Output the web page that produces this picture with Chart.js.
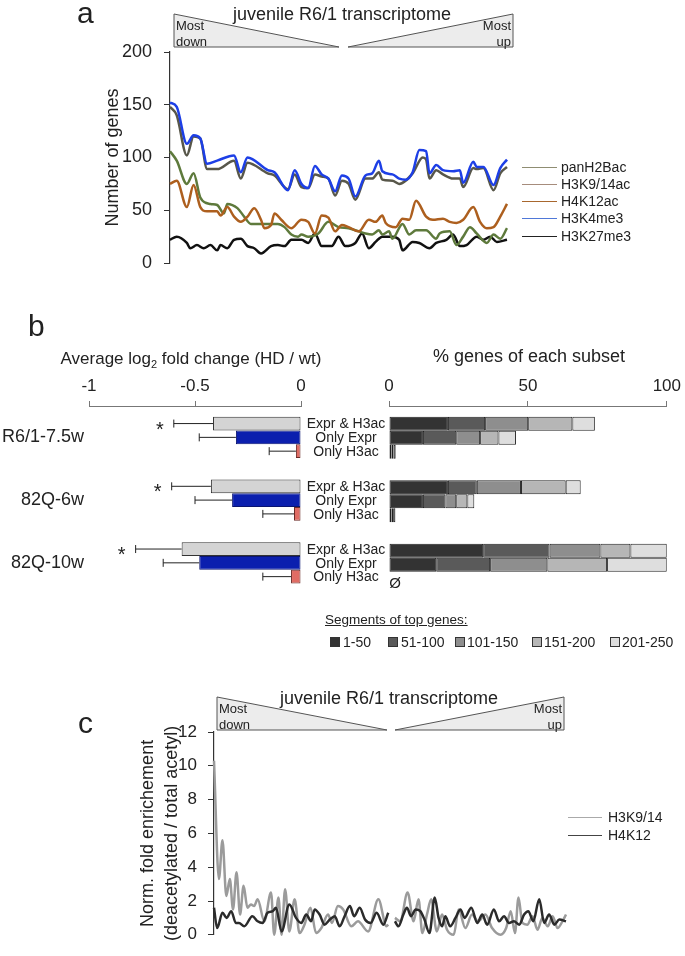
<!DOCTYPE html>
<html>
<head>
<meta charset="utf-8">
<script src="https://cdn.jsdelivr.net/npm/chart.js@4.4.0/dist/chart.umd.min.js"></script>
<style>
  body { margin: 0; width: 685px; height: 956px; position: relative; overflow: hidden; background: #fff;
         font-family: Arial, "Liberation Sans", sans-serif; color: #222; }
  canvas, svg { position: absolute; }
  .t { position: absolute; white-space: nowrap; line-height: 1; }
  .c { transform: translate(-50%, -50%); }
  .lt { font-size: 30px; line-height: 30px; }
  .sm { font-size: 13px; line-height: 13px; }
  .leg { font-size: 14px; transform: translateY(-50%); }
  .ln { position: absolute; height: 0; border-top: 1.5px solid; }
  .sq { position: absolute; width: 8px; height: 8px; border: 1px solid #333; }
</style>
</head>
<body>

<canvas id="chartA" width="685" height="290" style="left:0;top:0"></canvas>
<canvas id="chartB1" width="390" height="270" style="left:0;top:340px"></canvas>
<canvas id="chartB2" width="305" height="270" style="left:380px;top:340px"></canvas>
<canvas id="chartC" width="685" height="276" style="left:0;top:680px"></canvas>

<!-- rank wedges above panels a and c -->
<svg width="685" height="956" style="left:0;top:0">
  <polygon points="174,14 174,47 339,47" fill="#ececec" stroke="#555" stroke-width="1"/>
  <polygon points="348,47 513,14 513,47" fill="#ececec" stroke="#555" stroke-width="1"/>
  <polygon points="217,697 217,730 387,730" fill="#ececec" stroke="#555" stroke-width="1"/>
  <polygon points="395,730 564,697 564,730" fill="#ececec" stroke="#555" stroke-width="1"/>
</svg>

<!-- panel a -->
<div class="t lt" style="left:77px;top:-2px">a</div>
<div class="t c" style="left:342px;top:14px;font-size:18px">juvenile R6/1 transcriptome</div>
<div class="t sm" style="left:176px;top:19px">Most</div>
<div class="t sm" style="left:176px;top:35px">down</div>
<div class="t sm" style="right:174px;top:19px">Most</div>
<div class="t sm" style="right:174px;top:35px">up</div>

<div class="ln" style="left:522px;top:167px;width:35px;border-color:#8f8d72"></div>
<div class="t leg" style="left:561px;top:167px">panH2Bac</div>
<div class="ln" style="left:522px;top:184px;width:35px;border-color:#a68c7c"></div>
<div class="t leg" style="left:561px;top:184px">H3K9/14ac</div>
<div class="ln" style="left:522px;top:201px;width:35px;border-color:#a8672e"></div>
<div class="t leg" style="left:561px;top:201px">H4K12ac</div>
<div class="ln" style="left:522px;top:218px;width:35px;border-color:#4f78d8"></div>
<div class="t leg" style="left:561px;top:218px">H3K4me3</div>
<div class="ln" style="left:522px;top:236px;width:35px;border-color:#222"></div>
<div class="t leg" style="left:561px;top:236px">H3K27me3</div>

<!-- panel b -->
<div class="t lt" style="left:28px;top:311px">b</div>
<div class="t c" style="left:191px;top:360px;font-size:17px">Average log<span style="font-size:11px;vertical-align:-4px">2</span> fold change (HD / wt)</div>
<div class="t c" style="left:529px;top:356px;font-size:18px">% genes of each subset</div>
<div class="t c" style="left:395px;top:582px;font-size:15px">Ø</div>

<div class="t" style="left:325px;top:613px;font-size:13.5px;text-decoration:underline">Segments of top genes:</div>
<div class="sq" style="left:330px;top:637px;background:#333333"></div>
<div class="t leg" style="left:343px;top:642px">1-50</div>
<div class="sq" style="left:388px;top:637px;background:#5a5a5a"></div>
<div class="t leg" style="left:401px;top:642px">51-100</div>
<div class="sq" style="left:455px;top:637px;background:#8e8e8e"></div>
<div class="t leg" style="left:467px;top:642px">101-150</div>
<div class="sq" style="left:532px;top:637px;background:#b6b6b6"></div>
<div class="t leg" style="left:544px;top:642px">151-200</div>
<div class="sq" style="left:610px;top:637px;background:#dedede"></div>
<div class="t leg" style="left:622px;top:642px">201-250</div>

<!-- panel c -->
<div class="t lt" style="left:78px;top:708px">c</div>
<div class="t c" style="left:389px;top:698px;font-size:18px">juvenile R6/1 transcriptome</div>
<div class="t sm" style="left:219px;top:702px">Most</div>
<div class="t sm" style="left:219px;top:718px">down</div>
<div class="t sm" style="right:123px;top:702px">Most</div>
<div class="t sm" style="right:123px;top:718px">up</div>

<div class="ln" style="left:568px;top:817px;width:34px;border-color:#aaa"></div>
<div class="t leg" style="left:608px;top:817px">H3K9/14</div>
<div class="ln" style="left:568px;top:835px;width:34px;border-color:#444"></div>
<div class="t leg" style="left:608px;top:835px">H4K12</div>

<script>
// ---- panel a: number of genes along the ranked transcriptome (rank %, count) ----
const panH2Bac = [[0,148],[2,140],[5,102],[7,120],[9,118],[11,89],[14,89],[19,97],[21,80],[23,95],[29,85],[31,83],[35,70],[37,84],[39,72],[41,71],[43,84],[45,82],[47,80],[49,64],[51,78],[53,75],[55,60],[58,80],[60,80],[62,86],[63,79],[66,78],[68,75],[72,85],[75,100],[76,98],[77,80],[79,88],[81,84],[84,80],[86,80],[87,72],[90,90],[91,89],[93,90],[96,69],[98,85],[100,91]];
const h3k914ac = [[0,106],[2,97],[5,75],[7,85],[9,62],[12,56],[14,55],[16,47],[17,56],[20,52],[22,44],[24,37],[27,37],[32,37],[34,34],[36,27],[38,25],[39,27],[41,25],[44,28],[47,39],[50,34],[53,33],[55,31],[58,28],[60,27],[62,31],[63,27],[65,30],[66,23],[69,37],[71,27],[73,31],[76,31],[79,23],[80,28],[83,30],[85,17],[87,25],[89,34],[91,28],[94,19],[96,27],[98,23],[100,33]];
const h4k12ac = [[0,75],[2,78],[5,53],[7,74],[9,53],[11,49],[14,49],[15,45],[17,53],[19,44],[21,39],[23,44],[25,52],[27,41],[28,33],[30,36],[31,47],[33,41],[36,33],[39,41],[41,39],[43,28],[45,45],[47,43],[49,30],[51,36],[53,34],[56,30],[59,41],[61,39],[63,45],[64,38],[67,34],[69,42],[71,41],[73,59],[76,44],[78,41],[81,42],[83,39],[85,38],[87,41],[90,53],[92,39],[94,33],[96,34],[98,44],[100,56]];
const h3k4me3 = [[0,152],[2,148],[5,113],[7,121],[9,118],[11,94],[14,97],[19,102],[21,86],[23,100],[29,88],[31,86],[35,69],[37,88],[39,75],[41,71],[43,92],[45,84],[47,80],[49,68],[51,83],[53,80],[55,63],[58,83],[60,85],[62,97],[63,87],[66,84],[68,80],[70,79],[72,86],[74,107],[76,106],[77,85],[79,93],[81,88],[84,87],[86,88],[87,76],[90,96],[91,91],[93,91],[96,74],[98,90],[100,98]];
const h3k27me3 = [[0,22],[2,25],[5,19],[6,14],[8,17],[10,14],[12,17],[14,12],[15,17],[17,14],[19,22],[21,23],[23,16],[25,14],[27,9],[30,16],[32,17],[34,16],[36,22],[39,22],[41,19],[43,28],[45,16],[48,16],[50,25],[52,16],[55,19],[57,28],[59,14],[61,20],[63,25],[66,25],[68,22],[69,12],[72,20],[74,19],[77,14],[79,19],[82,22],[84,27],[86,16],[88,17],[91,25],[93,22],[95,25],[97,20],[100,22]];
const geneTicks = [0, 50, 100, 150, 200];

// ---- panel b: fold change (left) and top-gene segments (right) ----
const groups = ['R6/1-7.5w', '82Q-6w', '82Q-10w'];
const subsets = ['Expr & H3ac', 'Only Expr', 'Only H3ac'];
const fcExprH3ac = [-0.415, -0.425, -0.563];
const fcOnlyExpr = [-0.307, -0.325, -0.48];
const fcOnlyH3ac = [-0.024, -0.033, -0.047];
const semExprH3ac = [0.185, 0.185, 0.217];
const semOnlyExpr = [0.173, 0.175, 0.17];
const semOnlyH3ac = [0.126, 0.147, 0.133];
const significant = [true, true, true];

const segLabels = ['1-50', '51-100', '101-150', '151-200', '201-250'];
const segColors = ['#333333', '#5a5a5a', '#8e8e8e', '#b6b6b6', '#dedede'];
const pctExprH3ac = [[21.2, 13.4, 15.5, 15.9, 8.1], [21.2, 10.4, 15.9, 16.1, 5.4], [33.9, 23.9, 18.3, 10.8, 13.1]];
const pctOnlyExpr = [[12.2, 12.0, 8.6, 6.6, 6.3], [12.2, 8.1, 3.9, 4.0, 2.5], [17.0, 19.4, 20.6, 21.5, 21.5]];
const pctOnlyH3ac = [[0.9, 0.7, 0.8, null, null], [0.9, 0.6, 0.8, null, null], [null, null, null, null, null]];

// ---- panel c: deacetylated / total acetyl enrichment (rank %, ratio) ----
const h3k914Ratio = [[0,10.3],[1.4,3.3],[2.4,5.6],[3.5,2.3],[4.5,3.3],[5.4,1.5],[6.4,3.7],[7.4,1.2],[8.4,2.9],[9.5,1.6],[10.5,1.8],[11.4,1.7],[12.4,2.1],[14.3,0.8],[16.2,2.5],[17.1,0],[18.3,2.2],[19.2,0],[20.2,2.7],[21.4,0.2],[22.9,2.1],[24.3,0.1],[25.7,0.6],[27.4,1.6],[29,0.1],[30.5,0.4],[32.4,1.2],[33.5,0.7],[35.2,1.7],[36.7,1.5],[39,0.5],[40.9,0.8],[43.8,0.2],[46.7,2.1],[49,0.5],[49.5,0.6],[50.5,null],[51.4,1.0],[52.9,0.8],[55,2.5],[56.7,0.8],[58.1,2.1],[59.2,0.1],[60.5,1.2],[61.7,2.1],[63.3,0.2],[64.8,1.2],[66.2,0.3],[68.1,0],[69.5,1.5],[71.4,0.4],[73.3,1.2],[75,0.8],[77.1,1.2],[79,0.4],[81.4,0],[83,0.4],[84.3,1.4],[85.5,0.1],[86.5,2.2],[87.6,0.7],[89,0.6],[90.5,1.1],[91.9,0.3],[93.3,1.0],[94.8,0.5],[96.2,1.1],[97.6,0.4],[99,0.8],[100,1.2]];
const h4k12Ratio = [[0,1.6],[0.9,0.4],[2.4,1.3],[3.6,1.0],[4.9,1.4],[6.2,0.7],[7.1,0.7],[8.6,0.5],[10.9,1.1],[12.4,0.8],[13.8,0.7],[15.2,1.3],[16.7,1.4],[17.6,1.6],[19.2,0.2],[21.4,1.8],[23.3,1.0],[24.8,0.7],[26.2,1.2],[27.6,0.8],[28.6,1.5],[30,1.2],[31.4,0.6],[32.9,0.9],[34.3,1.1],[35.7,0.5],[37.1,1.1],[38.6,1.7],[39.8,1.1],[41.4,1.6],[42.9,0.9],[44.5,0.7],[46.2,1.3],[48.1,0.6],[49.5,1.3],[50.5,null],[51.4,0.8],[52.4,0.5],[53.8,1.2],[54.8,1.6],[56,1.1],[57.3,1.5],[58.6,1.4],[59.8,0.9],[61.2,0.1],[62.7,2.2],[63.8,1.0],[64.8,0.5],[65.7,1.1],[67.1,0.5],[68.6,1.0],[70,1.5],[71.2,1.0],[73.1,1.6],[74.8,0.7],[76.2,1.2],[77.6,0.6],[79.5,1.5],[81,0.8],[82.4,1.1],[83.8,0.7],[85.2,0.8],[86.7,0.6],[88.1,1.2],[89.3,1.4],[90.7,0.8],[92.4,2.1],[93.8,0.7],[95.2,1.2],[96.7,0.6],[98.1,0.9],[100,0.8]];

Chart.defaults.font.family = 'Arial, "Liberation Sans", sans-serif';
Chart.defaults.color = '#222';
Chart.defaults.animation = false;
Chart.defaults.plugins.legend.display = false;
Chart.defaults.plugins.tooltip.enabled = false;

function toXY(pairs) {
    return pairs.map(p => ({ x: p[0], y: p[1] }));
}

function lineSet(label, pairs, color, order) {
    return {
        label: label,
        data: toXY(pairs),
        borderColor: color,
        borderWidth: 2.5,
        pointRadius: 0,
        cubicInterpolationMode: 'monotone',
        spanGaps: false,
        clip: false,
        order: order
    };
}

// panel a
new Chart(document.getElementById('chartA'), {
    type: 'line',
    data: {
        datasets: [
            lineSet('H3K4me3', h3k4me3, '#1d3fe6', 0),
            lineSet('panH2Bac', panH2Bac, '#58574a', 1),
            lineSet('H4K12ac', h4k12ac, '#ad5f1e', 2),
            lineSet('H3K9/14ac', h3k914ac, '#5e7a3c', 3),
            lineSet('H3K27me3', h3k27me3, '#111111', 4)
        ]
    },
    options: {
        responsive: false,
        layout: { padding: { left: 102, right: 178, top: 52, bottom: 27 } },
        scales: {
            x: { type: 'linear', min: 0, max: 100, display: false },
            y: {
                min: 0, max: 200,
                afterBuildTicks: s => { s.ticks = geneTicks.map(v => ({ value: v })); },
                ticks: { font: { size: 18 }, padding: 12, color: '#222' },
                grid: { drawOnChartArea: false, tickLength: 6, color: '#333' },
                border: { color: '#333', width: 1.2 },
                title: { display: true, text: 'Number of genes', font: { size: 18 }, padding: 0, color: '#222' },
                afterFit: s => { s.width = 68; }
            }
        }
    }
});

// error bars, asterisks and subset names for the fold-change bars
const errorBars = {
    id: 'errorBars',
    afterDatasetsDraw(chart) {
        const ctx = chart.ctx;
        const xs = chart.scales.x;
        ctx.save();
        chart.data.datasets.forEach((ds, i) => {
            chart.getDatasetMeta(i).data.forEach((bar, j) => {
                const end = xs.getPixelForValue(ds.data[j] - ds.sem[j]);
                ctx.strokeStyle = '#222';
                ctx.lineWidth = 1;
                ctx.beginPath();
                ctx.moveTo(bar.x, bar.y);
                ctx.lineTo(end, bar.y);
                ctx.moveTo(end, bar.y - 4);
                ctx.lineTo(end, bar.y + 4);
                ctx.stroke();
                ctx.fillStyle = '#222';
                if (i === 0 && significant[j]) {
                    ctx.font = '20px Arial, "Liberation Sans", sans-serif';
                    ctx.textAlign = 'center';
                    ctx.textBaseline = 'alphabetic';
                    ctx.fillText('*', end - 14, bar.y + 12);
                }
                ctx.font = '14px Arial, "Liberation Sans", sans-serif';
                ctx.textAlign = 'center';
                ctx.textBaseline = 'middle';
                ctx.fillText(ds.label, chart.chartArea.right + 45, bar.y + 1);
            });
        });
        ctx.restore();
    }
};

const topAxis = (min, max, step) => ({
    position: 'top',
    min: min, max: max,
    ticks: { stepSize: step, font: { size: 17 }, padding: 4, color: '#222', callback: v => String(v) },
    grid: { drawOnChartArea: false, tickLength: 5, color: '#777' },
    border: { color: '#777' },
    afterFit: s => { s.height = 40; }
});

new Chart(document.getElementById('chartB1'), {
    type: 'bar',
    data: {
        labels: groups,
        datasets: [
            { label: subsets[0], data: fcExprH3ac, sem: semExprH3ac, backgroundColor: '#d4d4d4', borderColor: '#333' },
            { label: subsets[1], data: fcOnlyExpr, sem: semOnlyExpr, backgroundColor: '#0b1fae', borderColor: '#0a1470' },
            { label: subsets[2], data: fcOnlyH3ac, sem: semOnlyH3ac, backgroundColor: '#e06c64', borderColor: '#6a2a26' }
        ]
    },
    options: {
        indexAxis: 'y',
        responsive: false,
        datasets: { bar: { categoryPercentage: 0.66, barPercentage: 1, borderWidth: 1, borderSkipped: false } },
        layout: { padding: { left: 0, right: 89, top: 26, bottom: 13.5 } },
        scales: {
            x: topAxis(-1, 0, 0.5),
            y: {
                ticks: { font: { size: 18 }, padding: 5, color: '#222' },
                grid: { display: false, drawTicks: false },
                border: { display: false },
                afterFit: s => { s.width = 89; }
            }
        }
    },
    plugins: [errorBars]
});

const segRows = [pctExprH3ac, pctOnlyExpr, pctOnlyH3ac];
const segDatasets = [];
segRows.forEach((row, r) => {
    segLabels.forEach((lab, s) => {
        segDatasets.push({
            label: lab,
            stack: 'row' + r,
            data: row.map(g => g[s]),
            backgroundColor: segColors[s],
            borderColor: '#222',
            borderWidth: 1,
            borderSkipped: false
        });
    });
});

new Chart(document.getElementById('chartB2'), {
    type: 'bar',
    data: { labels: groups, datasets: segDatasets },
    options: {
        indexAxis: 'y',
        responsive: false,
        datasets: { bar: { categoryPercentage: 0.66, barPercentage: 1 } },
        layout: { padding: { left: 9, right: 17, top: 26, bottom: 13.5 } },
        scales: {
            x: Object.assign(topAxis(0, 100, 50), { stacked: true }),
            y: { stacked: true, display: false }
        }
    }
});

// panel c
new Chart(document.getElementById('chartC'), {
    type: 'line',
    data: {
        datasets: [
            lineSet('H4K12', h4k12Ratio, '#2b2b2b', 0),
            lineSet('H3K9/14', h3k914Ratio, '#9b9b9b', 1)
        ]
    },
    options: {
        responsive: false,
        layout: { padding: { left: 137, right: 119, top: 52, bottom: 12 } },
        scales: {
            x: { type: 'linear', min: 0, max: 100, display: false },
            y: {
                min: 0, max: 12,
                ticks: { stepSize: 2, font: { size: 17 }, padding: 11, color: '#222' },
                grid: { drawOnChartArea: false, tickLength: 6, color: '#333' },
                border: { color: '#333', width: 1.2 },
                title: {
                    display: true,
                    text: ['Norm. fold enrichement', '(deacetylated / total acetyl)'],
                    font: { size: 18, lineHeight: 1.28 }, padding: 0, color: '#222'
                },
                afterFit: s => { s.width = 77; }
            }
        }
    }
});
</script>
</body>
</html>
